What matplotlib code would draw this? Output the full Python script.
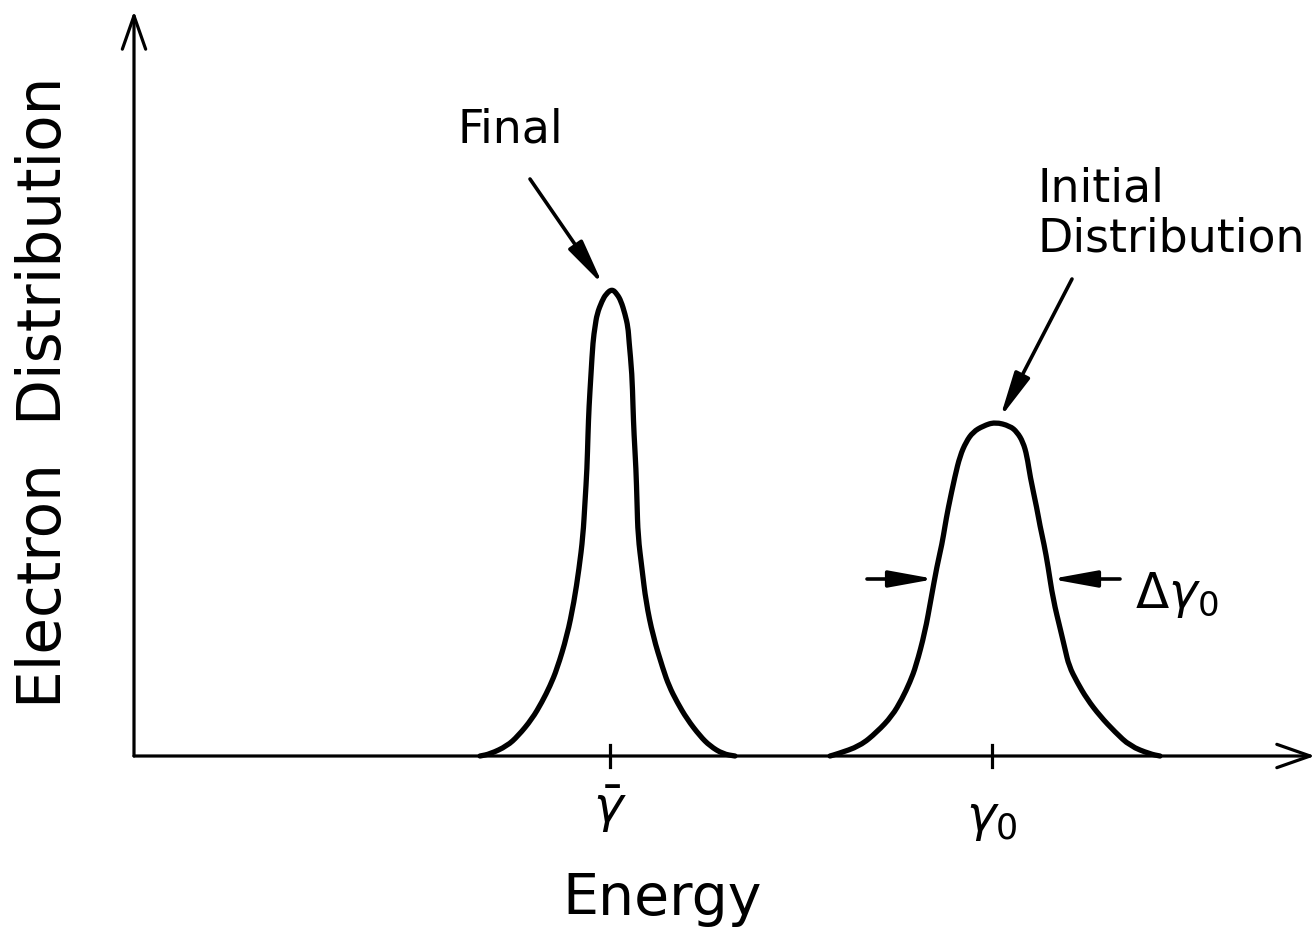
import matplotlib
matplotlib.use("Agg")
import matplotlib.pyplot as plt
from matplotlib.path import Path
from matplotlib.patches import PathPatch

plt.rcParams['font.family'] = ['DejaVu Sans']
plt.rcParams['mathtext.fontset'] = 'dejavusans'

# final (narrow) distribution
final_x = [3.50, 3.60, 3.77, 3.88, 4.02, 4.12, 4.20, 4.27, 4.37, 4.44, 4.49, 4.53, 4.55, 4.57,
           4.58, 4.59, 4.61, 4.63, 4.65, 4.67, 4.72, 4.76, 4.82, 4.87, 4.91, 4.95, 4.98, 4.99,
           5.02, 5.03, 5.04, 5.06, 5.07, 5.08, 5.12, 5.16, 5.23, 5.33, 5.39, 5.47, 5.57, 5.70,
           5.80, 5.93, 6.05]
final_y = [0.00, 0.02, 0.10, 0.20, 0.37, 0.54, 0.70, 0.87, 1.20, 1.54, 1.87, 2.20, 2.54, 2.87,
           3.22, 3.49, 3.82, 4.15, 4.29, 4.42, 4.55, 4.62, 4.67, 4.62, 4.55, 4.42, 4.29, 4.15,
           3.82, 3.49, 3.22, 2.87, 2.54, 2.20, 1.87, 1.54, 1.20, 0.87, 0.70, 0.54, 0.37, 0.20,
           0.10, 0.02, 0.00]

# initial (wide) distribution
init_x = [7.00, 7.07, 7.30, 7.47, 7.62, 7.72, 7.80, 7.86, 7.95, 8.01, 8.07, 8.12, 8.15, 8.18,
          8.25, 8.30, 8.36, 8.43, 8.53, 8.65, 8.80, 8.87, 8.93, 8.97, 9.00, 9.07, 9.10, 9.14,
          9.18, 9.23, 9.31, 9.35, 9.39, 9.47, 9.57, 9.70, 9.85, 10.00, 10.20, 10.30]
init_y = [0.00, 0.02, 0.10, 0.24, 0.40, 0.57, 0.74, 0.90, 1.24, 1.57, 1.90, 2.12, 2.30, 2.47,
          2.80, 3.00, 3.14, 3.24, 3.30, 3.34, 3.30, 3.24, 3.14, 3.00, 2.80, 2.47, 2.30, 2.12,
          1.90, 1.57, 1.24, 1.07, 0.90, 0.74, 0.57, 0.40, 0.24, 0.10, 0.02, 0.00]

gamma_bar = 4.80
gamma_0 = 8.62
tick_labels = [r'$\bar{\gamma}$', r'$\gamma_0$']
half_level = 1.77
half_left, half_right = 8.05, 9.21

x0 = 0.04  # where the vertical axis sits


def smooth_curve(ax, xs, ys, **kw):
    # quadratic segments through midpoints so the traced polyline has no corners
    pts = list(zip(xs, ys))
    verts = [pts[0], ((pts[0][0] + pts[1][0]) / 2, (pts[0][1] + pts[1][1]) / 2)]
    codes = [Path.MOVETO, Path.LINETO]
    for i in range(1, len(pts) - 1):
        nxt = pts[i + 1]
        verts += [pts[i], ((pts[i][0] + nxt[0]) / 2, (pts[i][1] + nxt[1]) / 2)]
        codes += [Path.CURVE3, Path.CURVE3]
    verts.append(pts[-1])
    codes.append(Path.LINETO)
    ax.add_patch(PathPatch(Path(verts, codes), fill=False, **kw))


fig = plt.figure(figsize=(13.16, 9.37), dpi=100)
ax = fig.add_axes([0, 0, 1, 1])
ax.set_xlim(-1.30, 11.86)
ax.set_ylim(-1.80, 7.57)
ax.axis('off')

lw_axis = 2.3
open_head = dict(arrowstyle='->,head_length=1.0,head_width=0.35', lw=lw_axis, color='k',
                 mutation_scale=24, shrinkA=0, shrinkB=0)
ax.annotate('', xy=(x0, 7.45), xytext=(x0, 0), arrowprops=open_head)
ax.annotate('', xy=(11.85, 0), xytext=(x0, 0), arrowprops=open_head)

smooth_curve(ax, final_x, final_y, edgecolor='k', lw=3.8, capstyle='round', joinstyle='round')
smooth_curve(ax, init_x, init_y, edgecolor='k', lw=3.8, capstyle='round', joinstyle='round')

for xt, lab, dy in zip([gamma_bar, gamma_0], tick_labels, [-0.52, -0.62]):
    ax.plot([xt, xt], [-0.11, 0.11], color='k', lw=lw_axis)
    ax.text(xt, dy, lab, fontsize=36, ha='center', va='center')

filled = dict(arrowstyle='-|>,head_length=1.1,head_width=0.2', lw=2.6, color='k',
              mutation_scale=25, shrinkA=0, shrinkB=0)
ax.annotate('', xy=(4.73, 4.71), xytext=(4.00, 5.77), arrowprops=filled)
ax.annotate('', xy=(8.70, 3.38), xytext=(9.42, 4.77), arrowprops=filled)
ax.annotate('', xy=(half_left, half_level), xytext=(7.37, half_level), arrowprops=filled)
ax.annotate('', xy=(half_right, half_level), xytext=(9.90, half_level), arrowprops=filled)

ax.text(3.80, 6.27, 'Final', fontsize=33, ha='center', va='center')
ax.text(9.08, 5.43, 'Initial\nDistribution', fontsize=33, ha='left', va='center',
        linespacing=1.15)
ax.text(10.05, 1.62, r'$\Delta\gamma_0$', fontsize=35, ha='left', va='center')

ax.text(-0.85, 3.65, 'Electron  Distribution', fontsize=43, rotation=90,
        ha='center', va='center')
ax.text(5.32, -1.43, 'Energy', fontsize=41, ha='center', va='center')

fig.savefig('out.png', dpi=100)
